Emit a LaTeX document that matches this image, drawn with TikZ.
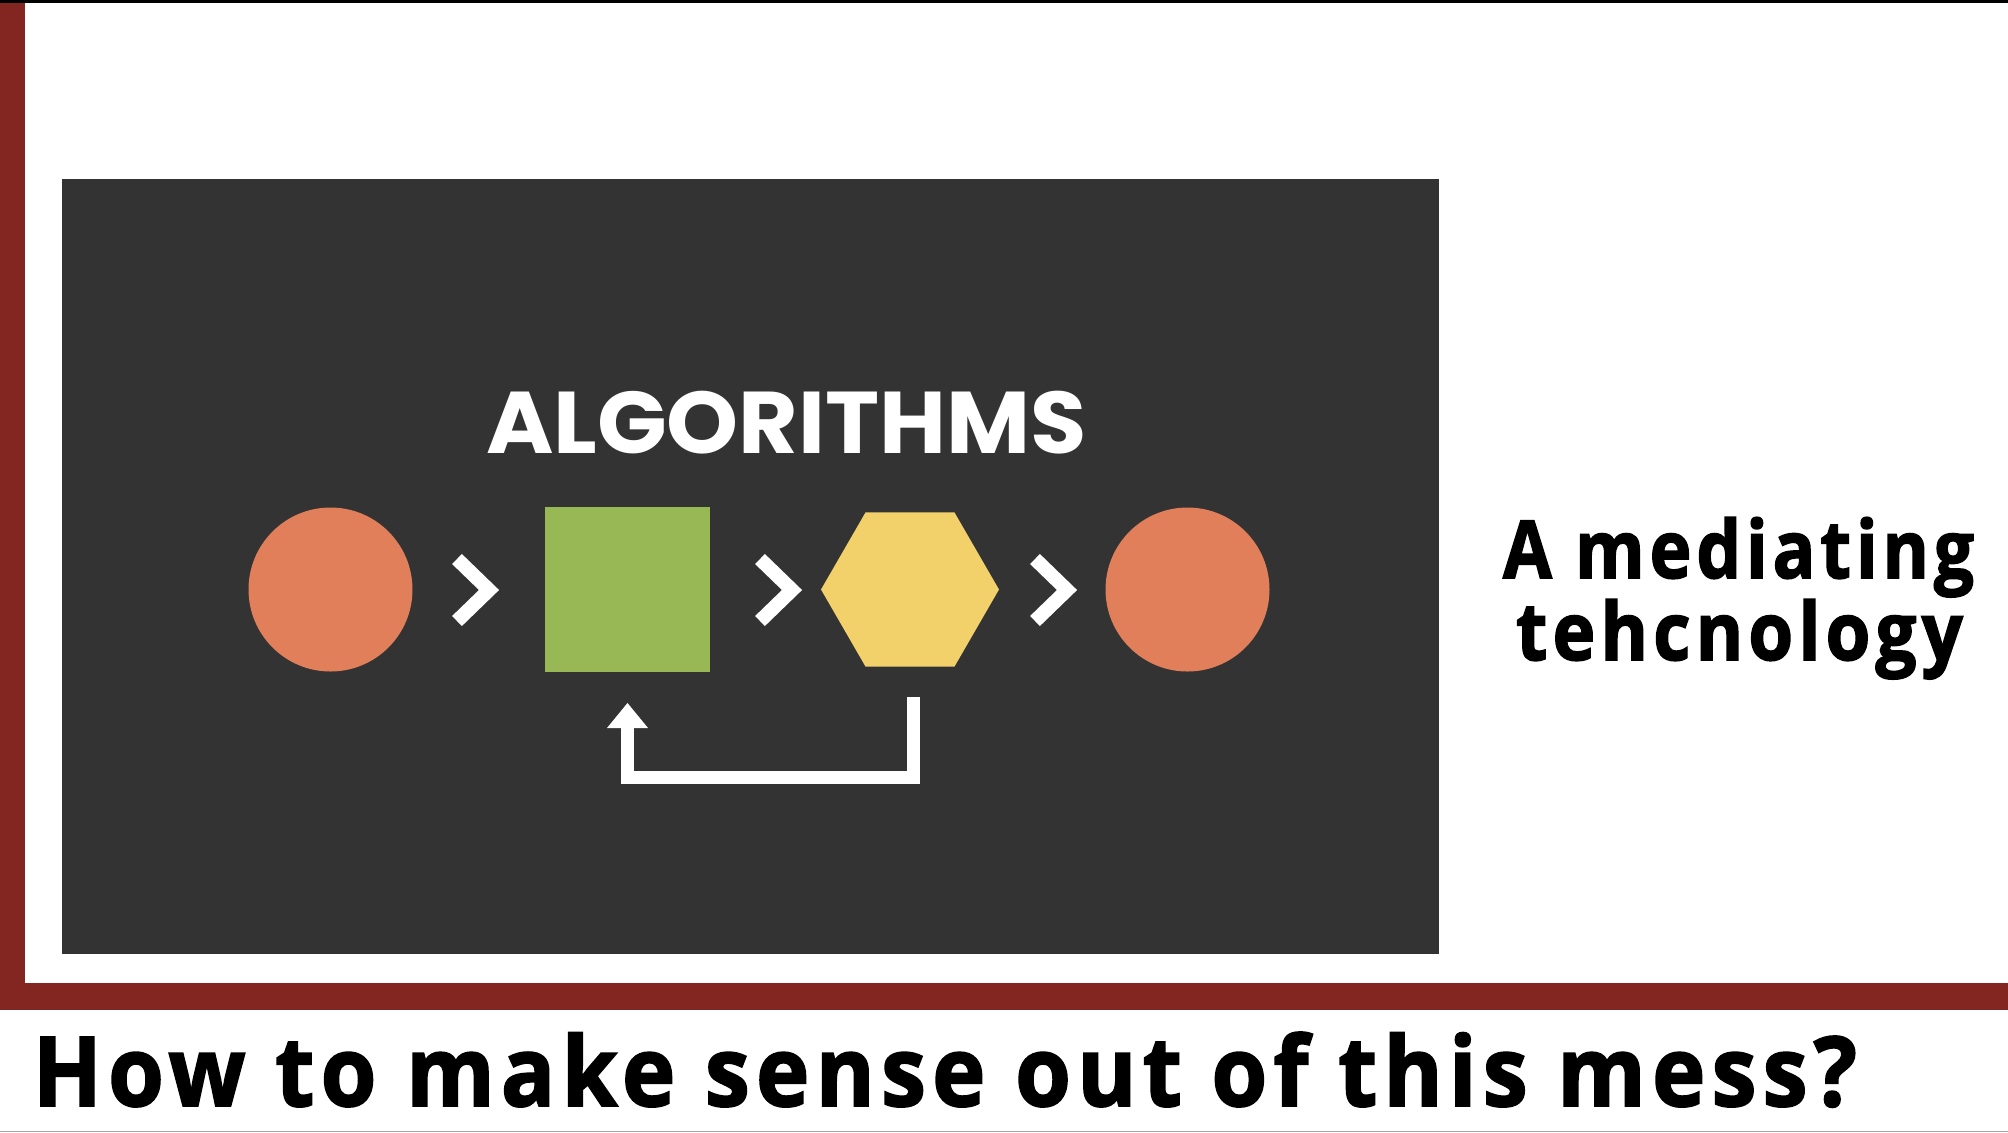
\documentclass[tikz,border=0pt]{standalone}
\usepackage{fontspec}
\usetikzlibrary{shapes.geometric,calc}
\newfontfamily\headfont{Poppins}
\newfontfamily\labelfont{Open Sans}[LetterSpace=7,BoldFeatures={FakeBold=2}]

\definecolor{framered}{HTML}{832622}
\definecolor{panelgrey}{HTML}{333333}
\definecolor{dotorange}{HTML}{E07F5A}
\definecolor{leafgreen}{HTML}{98B855}
\definecolor{sunyellow}{HTML}{F2D16B}

% scale a text horizontally to a given width (in pt)
\newsavebox\fitbox
\newcommand\fitwidth[2]{\sbox\fitbox{#2}\pgfmathsetmacro\fitsx{#1/\wd\fitbox}\scalebox{\fitsx}[1]{\usebox\fitbox}}

\begin{document}
\begin{tikzpicture}[x=0.5pt,y=-0.5pt,
  every node/.style={inner sep=0pt,outer sep=0pt},
  blob/.style={circle,fill=dotorange,minimum size=82pt},
  block/.style={rectangle,fill=leafgreen,minimum size=82.5pt},
  hexa/.style={regular polygon,regular polygon sides=6,fill=sunyellow,minimum size=89pt},
  flow/.style={white,line width=6.5pt,line join=miter},
  chevron/.pic={\draw[flow,line width=7pt] (6,-31) -- (38,0) -- (6,31);},
  title/.style={text=white,font=\headfont\bfseries\fontsize{43.8}{50}\selectfont},
  side/.style={text=black,font=\labelfont\bfseries\fontsize{40}{45}\selectfont},
  question/.style={text=black,font=\labelfont\bfseries\fontsize{48.3}{55}\selectfont}]

\useasboundingbox (0,0) rectangle (2008,1132);
\fill[white] (0,0) rectangle (2008,1132);

% frame
\fill[framered] (0,0) rectangle (25,1010);
\fill[framered] (0,983) rectangle (2008,1010);
\fill[black] (0,0) rectangle (2008,3);
\draw[gray!70,line width=0.5pt] (0,1131) -- (2008,1131);

% slide panel
\fill[panelgrey] (62,179) rectangle (1439,954);

\node[title,anchor=base] (head) at (786.5,453) {\fitwidth{300.5}{ALGORITHMS}};

% pipeline
\node[blob]  (in)  at (330.5,589.5) {};
\node[block] (sq)  at (627.5,589.5) {};
\node[hexa]  (hex) at (910,589.5) {};
\node[blob]  (out) at (1187.5,589.5) {};

\pic at (451,590) {chevron};
\pic at (754,590) {chevron};
\pic at (1029,590) {chevron};

% feedback loop: line from the hexagon back to the square, then its head
\draw[flow]
  ($(hex.south)+(3,30)$) |- ($(sq.south)+(0,105)$) -- ($(sq.south)+(0,55)$);
\fill[white] ($(sq.south)+(-20.5,56)$) -- ($(sq.south)+(0,31)$) -- ($(sq.south)+(20.5,56)$) -- cycle;

% side caption
\node[side,anchor=base] (cap1) at (1738.5,578) {\fitwidth{235.5}{A mediating}};
\node[side,anchor=base] (cap2) at (1739.5,660) {\fitwidth{223.5}{tehcnology}};

% bottom question
\node[question,anchor=base west] (ask) at (33,1106) {\fitwidth{912}{How to make sense out of this mess?}};
\end{tikzpicture}
\end{document}
